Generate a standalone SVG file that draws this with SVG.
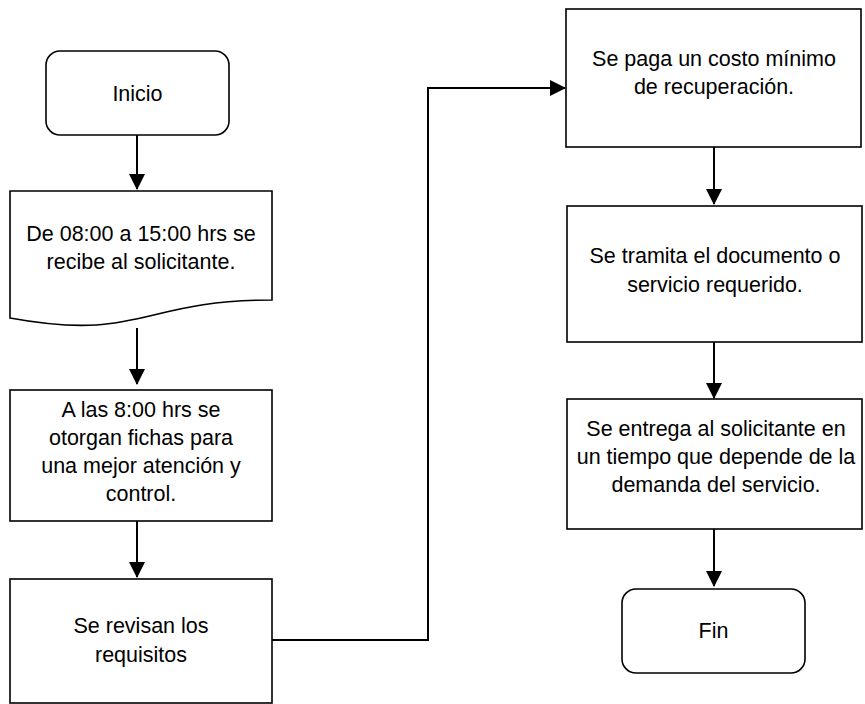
<svg xmlns="http://www.w3.org/2000/svg" width="865" height="704" viewBox="0 0 865 704">
<style>
.n{fill:#fff;stroke:#000;stroke-width:1.6}
.t{font-family:"Liberation Sans",Arial,sans-serif;font-size:21.5px;fill:#000;text-anchor:middle}
.c{fill:none;stroke:#000;stroke-width:2}
</style>
<defs>
<marker id="ah" markerWidth="8" markerHeight="8" refX="7.5" refY="4" orient="auto" markerUnits="strokeWidth" viewBox="0 0 8 8">
<path d="M0,0 L8,4 L0,8 Z" fill="#000"/>
</marker>
</defs>
<rect width="865" height="704" fill="#fff"/>
<g id="connectors">
<line class="c" x1="137" y1="135" x2="137" y2="189" marker-end="url(#ah)"/>
<line class="c" x1="137" y1="328" x2="137" y2="384" marker-end="url(#ah)"/>
<line class="c" x1="137" y1="521" x2="137" y2="577" marker-end="url(#ah)"/>
<polyline class="c" points="272,640 428,640 428,88 565,88" marker-end="url(#ah)"/>
<line class="c" x1="714" y1="147" x2="714" y2="204" marker-end="url(#ah)"/>
<line class="c" x1="714" y1="342" x2="714" y2="398" marker-end="url(#ah)"/>
<line class="c" x1="714" y1="529" x2="714" y2="586" marker-end="url(#ah)"/>
</g>
<g id="inicio">
<rect class="n" x="46" y="51" width="183" height="84" rx="14"/>
<text class="t" x="137.5" y="101">Inicio</text>
</g>
<g id="recibe">
<path class="n" d="M10,191 H272 V300 C141,300 141,342 10,318 Z"/>
<text class="t" x="141" y="241">De 08:00 a 15:00 hrs se</text>
<text class="t" x="141" y="269">recibe al solicitante.</text>
</g>
<g id="fichas">
<rect class="n" x="10" y="390" width="262" height="131"/>
<text class="t" x="141" y="417">A las 8:00 hrs se</text>
<text class="t" x="141" y="445">otorgan fichas para</text>
<text class="t" x="141" y="473">una mejor atención y</text>
<text class="t" x="141" y="501">control.</text>
</g>
<g id="revisan">
<rect class="n" x="10" y="579" width="262" height="124"/>
<text class="t" x="141" y="633">Se revisan los</text>
<text class="t" x="141" y="662">requisitos</text>
</g>
<g id="paga">
<rect class="n" x="566" y="9" width="295" height="138"/>
<text class="t" x="714" y="66">Se paga un costo mínimo</text>
<text class="t" x="714" y="94">de recuperación.</text>
</g>
<g id="tramita">
<rect class="n" x="567" y="206" width="295" height="136"/>
<text class="t" x="715" y="263">Se tramita el documento o</text>
<text class="t" x="715" y="292">servicio requerido.</text>
</g>
<g id="entrega">
<rect class="n" x="567" y="399" width="295" height="130"/>
<text class="t" x="716" y="436">Se entrega al solicitante en</text>
<text class="t" x="716" y="464">un tiempo que depende de la</text>
<text class="t" x="716" y="492">demanda del servicio.</text>
</g>
<g id="fin">
<rect class="n" x="622" y="589" width="183" height="84" rx="14"/>
<text class="t" x="713.5" y="638">Fin</text>
</g>
</svg>
